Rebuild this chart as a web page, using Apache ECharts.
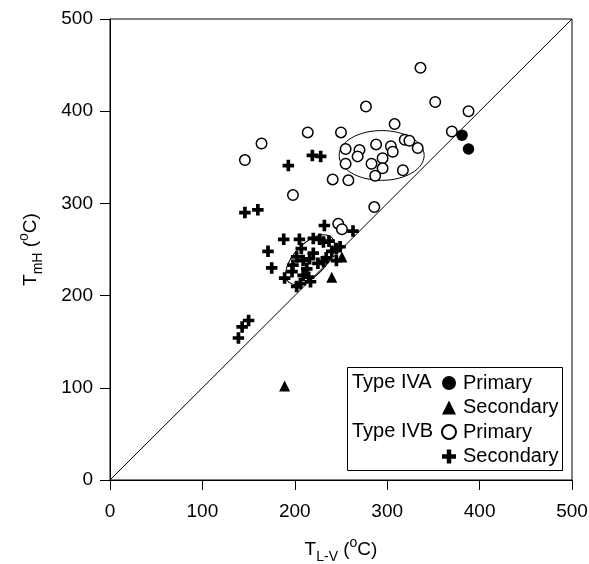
<!DOCTYPE html>
<html>
<head>
<meta charset="utf-8">
<script src="https://cdn.jsdelivr.net/npm/echarts@6/dist/echarts.min.js"></script>
<style>html,body{margin:0;padding:0;background:#fff}#c{width:589px;height:564px}</style>
</head>
<body>
<div id="c"></div>
<script>
// Type IVA primary (filled circles)
var ivaPrimary = [[381,374],[388,359]];
// Type IVA secondary (triangles)
var ivaSecondary = [[189,102],[240,220],[251,242]];
// Type IVB primary (open circles)
var ivbPrimary = [[146,347],[164,365],[214,377],[250,377],[277,405],[336,447],[352,410],[388,400],
  [308,386],[370,378],[255,359],[255,343],[241,326],[258,325],[198,309],[270,358],[268,351],
  [288,364],[304,362],[306,356],[319,369],[324,368],[333,360],[295,349],[283,343],[295,338],
  [287,330],[317,336],[286,296],[247,278],[251,272]];
// Type IVB secondary (crosses)
var ivbSecondary = [[139,154],[143,166],[150,173],[146,290],[160,293],[193,341],[219,352],[228,351],
  [171,248],[175,230],[188,261],[205,261],[220,262],[227,261],[231,258],[232,276],[263,270],
  [207,251],[220,246],[216,240],[209,238],[202,242],[198,233],[197,226],[189,219],[209,222],
  [215,220],[206,213],[231,237],[234,241],[240,248],[245,251],[249,253],[225,235],[213,229],
  [237,259],[245,238],[202,210],[217,215]];
// 1:1 line
var oneToOne = [[0,0],[500,500]];
// ellipses: [cx, cy, rx, ry, angleDeg]
var ellipses = [[294,352,46,27,0],[216.5,239,33.6,17.3,46]];
var ticks = [0,100,200,300,400,500];

var FONT = 'Liberation Sans, Arial, sans-serif';
var plus = 'path://M3.4,0H6.6V3.4H10V6.6H6.6V10H3.4V6.6H0V3.4H3.4Z';
var richName = {
  a: {fontSize: 19, fontFamily: FONT, color: '#000', lineHeight: 28, verticalAlign: 'middle'},
  sub: {fontSize: 14, fontFamily: FONT, color: '#000', lineHeight: 28, verticalAlign: 'bottom'},
  sup: {fontSize: 14, fontFamily: FONT, color: '#000', lineHeight: 28, verticalAlign: 'top'}
};

var chart = echarts.init(document.getElementById('c'));
chart.setOption({
  animation: false,
  grid: {left: 110, right: 17, top: 19, bottom: 84, containLabel: false, outerBoundsMode: 'none',
    show: true, borderColor: '#000', borderWidth: 1},
  xAxis: {
    type: 'value', min: 0, max: 500, interval: 100,
    splitLine: {show: false},
    axisLine: {lineStyle: {color: '#000'}},
    axisTick: {length: 10, lineStyle: {color: '#000'}},
    axisLabel: {color: '#000', fontSize: 19, fontFamily: FONT, margin: 22},
    name: '{a|T}{sub|L-V}{a| (}{sup|o}{a|C)}',
    nameLocation: 'middle', nameGap: 56,
    nameTextStyle: {rich: richName}
  },
  yAxis: {
    type: 'value', min: 0, max: 500, interval: 100,
    splitLine: {show: false},
    axisLine: {lineStyle: {color: '#000'}},
    axisTick: {length: 10, lineStyle: {color: '#000'}},
    axisLabel: {color: '#000', fontSize: 19, fontFamily: FONT, margin: 17},
    name: '{a|T}{sub|mH}{a| (}{sup|o}{a|C)}',
    nameLocation: 'middle', nameGap: 65, nameRotate: 90,
    nameTextStyle: {rich: richName}
  },
  legend: {
    orient: 'vertical', left: 441, top: 373, padding: 0,
    itemWidth: 14, itemHeight: 14, itemGap: 4.5,
    textStyle: {fontSize: 20, fontFamily: FONT, color: '#000', padding: [0,0,0,2]},
    formatter: function (n) { return n.replace(/^IV[AB] /, ''); },
    data: [
      {name: 'IVA Primary', icon: 'circle'},
      {name: 'IVA Secondary', icon: 'triangle'},
      {name: 'IVB Primary', icon: 'circle'},
      {name: 'IVB Secondary', icon: plus}
    ]
  },
  graphic: [
    {type: 'rect', shape: {x: 347.5, y: 367.5, width: 215, height: 103}, style: {fill: '#fff', stroke: '#000', lineWidth: 1}, z: -1},
    {type: 'text', x: 352, y: 382, style: {text: 'Type IVA', font: '20px ' + FONT, fill: '#000', verticalAlign: 'middle'}},
    {type: 'text', x: 352, y: 431, style: {text: 'Type IVB', font: '20px ' + FONT, fill: '#000', verticalAlign: 'middle'}}
  ],
  series: [
    {type: 'line', data: oneToOne, symbol: 'none', lineStyle: {color: '#000', width: 1}, silent: true, z: 1},
    {type: 'custom', data: ellipses, silent: true, z: 1,
      renderItem: function (params, api) {
        var c = api.coord([api.value(0), api.value(1)]);
        var s = api.size([api.value(2), api.value(3)]);
        return {type: 'ellipse', x: c[0], y: c[1], rotation: api.value(4) * Math.PI / 180,
          shape: {cx: 0, cy: 0, rx: s[0], ry: s[1]},
          style: {fill: 'none', stroke: '#000', lineWidth: 1}};
      }},
    {name: 'IVA Primary', type: 'scatter', data: ivaPrimary, symbol: 'circle', symbolSize: 11.5,
      itemStyle: {color: '#000', opacity: 1}, z: 3},
    {name: 'IVA Secondary', type: 'scatter', data: ivaSecondary, symbol: 'triangle', symbolSize: 11,
      itemStyle: {color: '#000', opacity: 1}, z: 3},
    {name: 'IVB Primary', type: 'scatter', data: ivbPrimary, symbol: 'circle', symbolSize: 10.5,
      itemStyle: {color: '#fff', borderColor: '#000', borderWidth: 1.5, opacity: 1}, z: 2},
    {name: 'IVB Secondary', type: 'scatter', data: ivbSecondary, symbol: plus, symbolSize: 11.5,
      itemStyle: {color: '#000', opacity: 1}, z: 3}
  ]
});
</script>
</body>
</html>
